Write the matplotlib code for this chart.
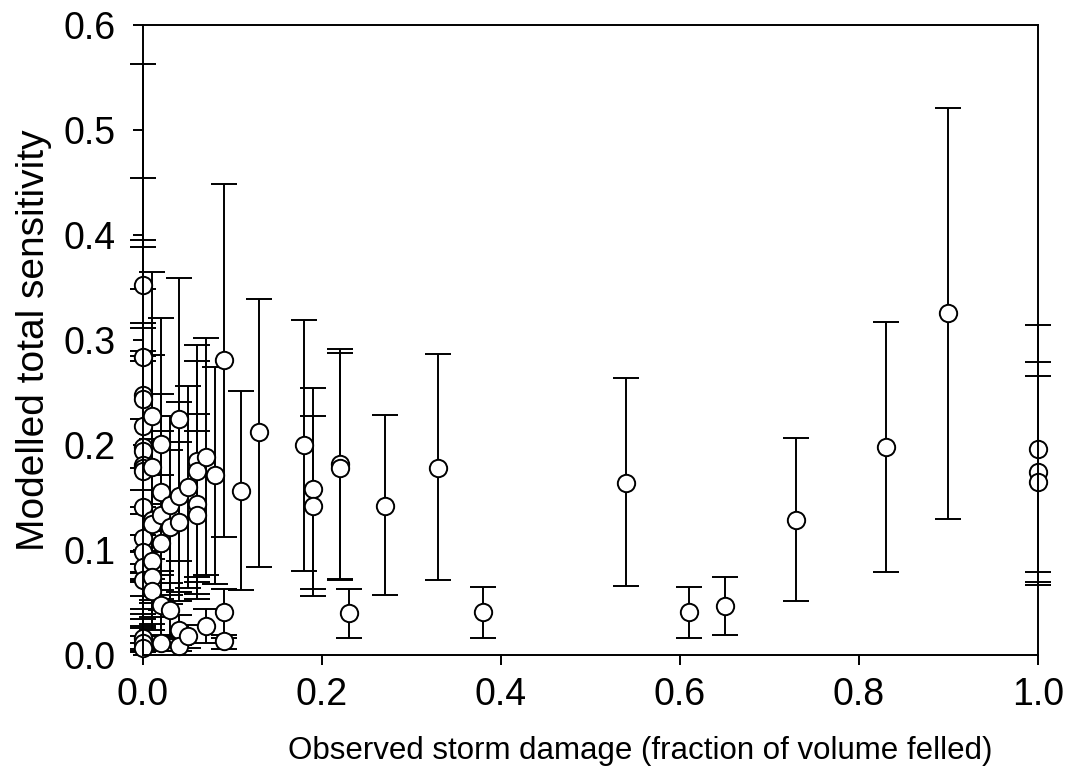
import matplotlib
matplotlib.use('Agg')
import matplotlib.pyplot as plt
import numpy as np

plt.rcParams['font.family'] = ['Liberation Sans', 'DejaVu Sans']

# observed damage, modelled sensitivity, lower and upper ends of the bars
damage = [0.00, 0.00, 0.00, 0.00, 0.00, 0.00, 0.00, 0.00, 0.00, 0.00,
          0.00, 0.00, 0.00, 0.00, 0.00, 0.00, 0.00, 0.00,
          0.01, 0.01, 0.01, 0.01, 0.01, 0.01, 0.01,
          0.02, 0.02, 0.02, 0.02, 0.02, 0.02,
          0.03, 0.03, 0.03,
          0.04, 0.04, 0.04, 0.04, 0.04,
          0.05, 0.05,
          0.06, 0.06, 0.06, 0.06,
          0.07, 0.07,
          0.08,
          0.09, 0.09, 0.09,
          0.11, 0.13, 0.18, 0.19, 0.19, 0.22, 0.22, 0.23, 0.27, 0.33, 0.38,
          0.54, 0.61, 0.65, 0.73, 0.83, 0.90, 1.00, 1.00, 1.00]
sens = [0.352, 0.284, 0.248, 0.244, 0.218, 0.198, 0.194, 0.181, 0.178, 0.175,
        0.141, 0.111, 0.098, 0.084, 0.071, 0.016, 0.011, 0.007,
        0.228, 0.179, 0.129, 0.125, 0.090, 0.074, 0.061,
        0.201, 0.155, 0.133, 0.107, 0.048, 0.011,
        0.143, 0.122, 0.043,
        0.225, 0.151, 0.127, 0.024, 0.009,
        0.160, 0.018,
        0.185, 0.175, 0.144, 0.133,
        0.189, 0.028,
        0.171,
        0.281, 0.041, 0.013,
        0.156, 0.212, 0.200, 0.158, 0.142, 0.182, 0.178, 0.040, 0.142, 0.178, 0.041,
        0.164, 0.041, 0.047, 0.129, 0.198, 0.326, 0.196, 0.174, 0.165]
low = [0.141, 0.114, 0.099, 0.098, 0.087, 0.079, 0.078, 0.072, 0.071, 0.070,
       0.056, 0.044, 0.039, 0.034, 0.028, 0.006, 0.004, 0.003,
       0.091, 0.072, 0.052, 0.050, 0.036, 0.030, 0.024,
       0.080, 0.062, 0.053, 0.043, 0.019, 0.004,
       0.057, 0.049, 0.017,
       0.090, 0.060, 0.051, 0.010, 0.004,
       0.064, 0.007,
       0.074, 0.070, 0.058, 0.053,
       0.076, 0.011,
       0.068,
       0.112, 0.016, 0.006,
       0.062, 0.084, 0.080, 0.063, 0.056, 0.072, 0.071, 0.016, 0.057, 0.071, 0.016,
       0.066, 0.016, 0.019, 0.051, 0.079, 0.130, 0.079, 0.070, 0.067]
high = [0.563, 0.454, 0.395, 0.389, 0.349, 0.316, 0.311, 0.290, 0.285, 0.280,
        0.225, 0.178, 0.157, 0.134, 0.114, 0.026, 0.018, 0.011,
        0.365, 0.286, 0.206, 0.200, 0.144, 0.118, 0.098,
        0.321, 0.249, 0.213, 0.171, 0.076, 0.018,
        0.228, 0.195, 0.069,
        0.359, 0.241, 0.203, 0.038, 0.015,
        0.256, 0.029,
        0.295, 0.280, 0.230, 0.213,
        0.302, 0.044,
        0.274,
        0.449, 0.063, 0.019,
        0.251, 0.339, 0.319, 0.228, 0.254, 0.291, 0.288, 0.063, 0.229, 0.287, 0.065,
        0.264, 0.065, 0.074, 0.207, 0.317, 0.521, 0.314, 0.279, 0.266]

x = np.array(damage)
y = np.array(sens)
yerr = [y - np.array(low), np.array(high) - y]

fig = plt.figure(figsize=(10.65, 7.74), dpi=100)
ax = fig.add_axes([0.1343, 0.1537, 0.8403, 0.814])

eb = ax.errorbar(x, y, yerr=yerr, fmt='o', color='black', ecolor='black',
                 elinewidth=1.4, capsize=9.5, capthick=1.4,
                 markersize=12.5, markerfacecolor='white',
                 markeredgecolor='black', markeredgewidth=1.4)
for artist in eb.get_children():
    artist.set_clip_on(False)

ax.set_xlim(0, 1.0)
ax.set_ylim(0, 0.6)
ax.set_xticks(np.arange(0, 1.01, 0.2))
ax.set_yticks(np.arange(0, 0.61, 0.1))
ax.xaxis.set_major_formatter(plt.FormatStrFormatter('%.1f'))
ax.yaxis.set_major_formatter(plt.FormatStrFormatter('%.1f'))
ax.tick_params(direction='out', length=7, width=1.4, labelsize=27)
ax.tick_params(axis='x', pad=9)
ax.tick_params(axis='y', pad=13)
for s in ax.spines.values():
    s.set_linewidth(1.4)

ax.set_xlabel('Observed storm damage (fraction of volume felled)', fontsize=22.5)
ax.xaxis.set_label_coords(0.556, -0.128)
ax.set_ylabel('Modelled total sensitivity', fontsize=28, labelpad=8)

fig.savefig('out.png', dpi=100)
